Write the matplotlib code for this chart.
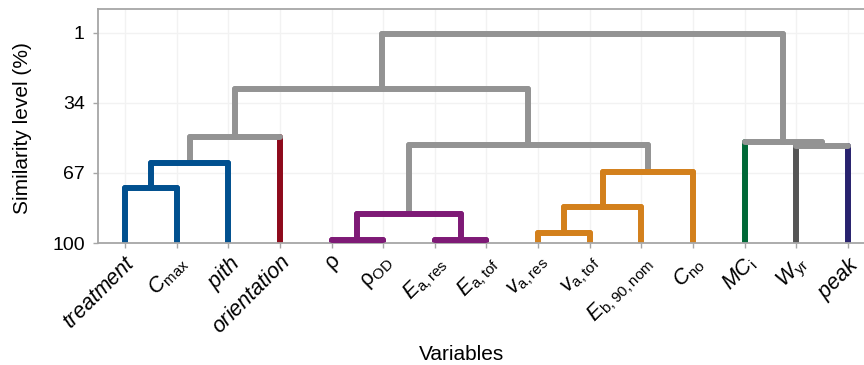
import matplotlib
matplotlib.use('Agg')
import matplotlib.pyplot as plt

plt.rcParams['font.family'] = ['Liberation Sans', 'DejaVu Sans']
plt.rcParams['mathtext.fontset'] = 'custom'
plt.rcParams['mathtext.rm'] = 'Liberation Sans'
plt.rcParams['mathtext.it'] = 'Liberation Sans:italic'
plt.rcParams['mathtext.bf'] = 'Liberation Sans:bold'

# ---- data ----
labels = [r'$treatment$', r'$C_{\mathrm{max}}$', r'$pith$', r'$orientation$',
          r'$\mathrm{\rho}$', r'$\mathrm{\rho}_{\mathrm{OD}}$', r'$E_{\mathrm{a,res}}$',
          r'$E_{\mathrm{a,tof}}$', r'$v_{\mathrm{a,res}}$', r'$v_{\mathrm{a,tof}}$',
          r'$E_{\mathrm{b,90,nom}}$', r'$C_{\mathrm{no}}$', r'$MC_{\mathrm{i}}$',
          r'$W_{\mathrm{yr}}$', r'$peak$']
leaf_group = ['blue', 'blue', 'blue', 'red', 'purple', 'purple', 'purple', 'purple',
              'orange', 'orange', 'orange', 'orange', 'green', 'dgray', 'navy']
group_colors = {'blue': '#01508F', 'red': '#8E0A1B', 'purple': '#7E1A76',
                'orange': '#D3801C', 'green': '#006837', 'dgray': '#555555',
                'navy': '#28226E'}
upper_color = '#939393'

# merges: node id = 15 + index
merge_left = [0, 15, 16, 4, 6, 18, 8, 21, 22, 20, 17, 13, 12, 25]
merge_right = [1, 2, 3, 5, 7, 19, 9, 10, 11, 23, 24, 14, 26, 27]
merge_height = [74.3, 62.3, 50.2, 98.6, 98.6, 86.2, 95.5, 82.9, 66.6, 53.9,
                27.6, 54.3, 52.5, 1.75]

yticks = [1, 34, 67, 100]
leaf_level = 100

# ---- tree layout ----
n = len(labels)
xpos = {i: i + 1 for i in range(n)}
hgt = {i: leaf_level for i in range(n)}
groups = {i: {leaf_group[i]} for i in range(n)}
for k, (a, b, h) in enumerate(zip(merge_left, merge_right, merge_height)):
    nid = n + k
    xpos[nid] = (xpos[a] + xpos[b]) / 2
    hgt[nid] = h
    groups[nid] = groups[a] | groups[b]


def col(node):
    g = groups[node]
    return group_colors[next(iter(g))] if len(g) == 1 else upper_color


fig = plt.figure(figsize=(8.64, 3.65), dpi=100)
ax = fig.add_axes([98 / 864, 1 - 243 / 365, 1 - 98 / 864, (243 - 9) / 365])

lw = 4.3
for k, (a, b, h) in enumerate(zip(merge_left, merge_right, merge_height)):
    nid = n + k
    pc = col(nid)
    for c in (a, b):
        vc = col(c) if (c < n or pc != upper_color) else upper_color
        ax.plot([xpos[c], xpos[c]], [hgt[c], h], color=vc, lw=lw,
                solid_capstyle='round', zorder=2)
    ax.plot([xpos[a], xpos[b]], [h, h], color=pc, lw=lw,
            solid_capstyle='round', zorder=3)

ax.set_xlim(0.477, 15.31)
ax.set_ylim(100, -10.1)
ax.set_yticks(yticks)
ax.set_yticklabels([str(v) for v in yticks])
ax.set_xticks(range(1, n + 1))
ax.set_xticklabels(labels)

ax.grid(True, color='#F2F2F2', lw=1.0, zorder=0)
ax.set_axisbelow(True)
for s in ['left', 'top', 'bottom']:
    ax.spines[s].set_color('#A6A6A6')
    ax.spines[s].set_linewidth(1.3)
ax.spines['right'].set_visible(False)

ax.tick_params(axis='both', colors='#A6A6A6', length=3.5, width=1.0)
ax.tick_params(axis='y', labelcolor='black', labelsize=14, pad=6)
ax.tick_params(axis='x', labelcolor='black', labelsize=15.5, pad=3)
for t in ax.get_xticklabels():
    t.set_rotation(45)
    t.set_ha('right')
    t.set_va('top')
    t.set_rotation_mode('anchor')

fig.text(462 / 864, 1 - 360 / 365, 'Variables', ha='center', va='baseline', fontsize=15)
fig.text(23 / 864, 1 - 128 / 365, 'Similarity level (%)', ha='center', va='center',
         rotation=90, fontsize=15)

fig.savefig('out.png', dpi=100)
